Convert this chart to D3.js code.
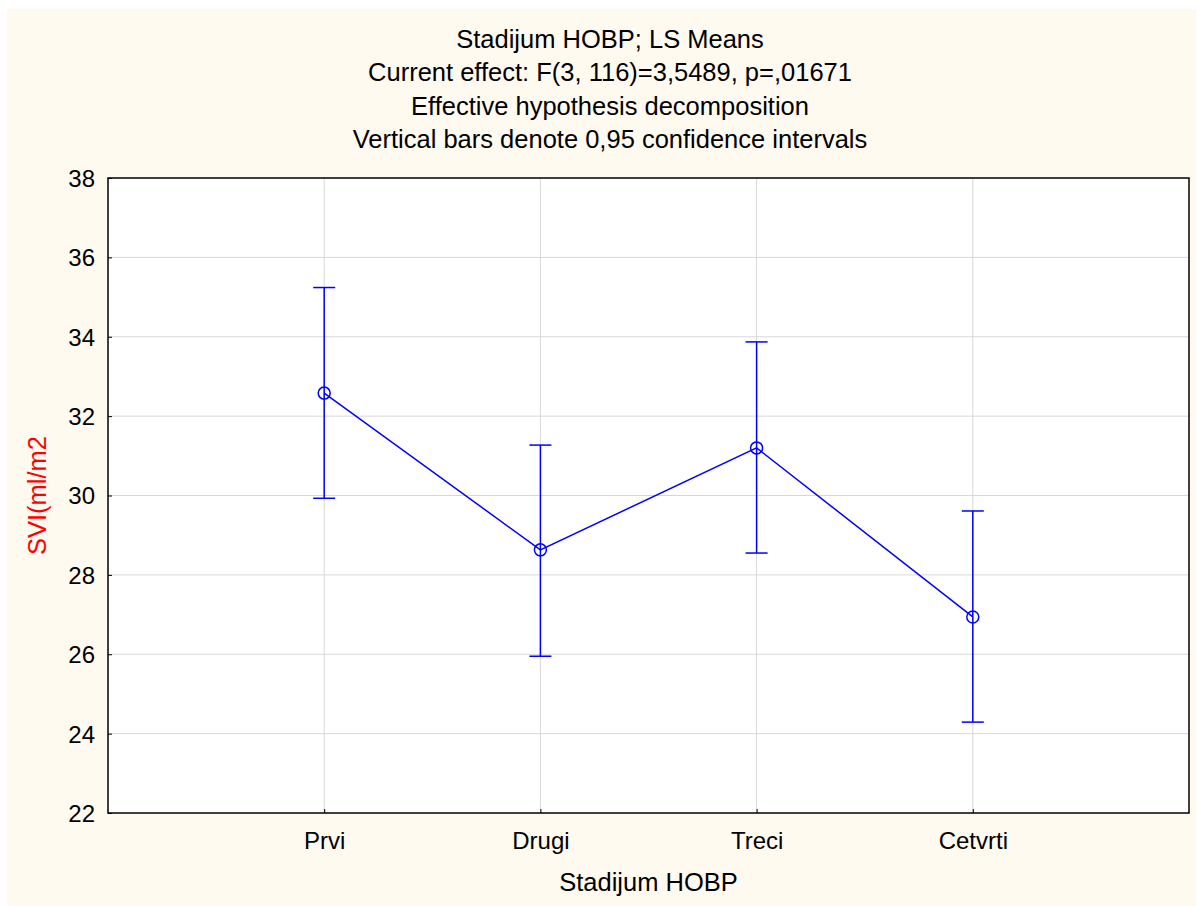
<!DOCTYPE html>
<html>
<head>
<meta charset="utf-8">
<script src="https://cdn.jsdelivr.net/npm/d3@7"></script>
<style>
  body { margin: 0; background: #ffffff; }
  text { font-family: "Liberation Sans", Arial, sans-serif; }
</style>
</head>
<body>
<svg id="chart"></svg>
<script>
// chart size
var width = 1199;
var height = 906;
var fontSize = "24px";
var titleSize = "25.5px";

// data
var categories = ["Prvi", "Drugi", "Treci", "Cetvrti"];
var means = [32.58, 28.63, 31.20, 26.94];
var upper = [35.24, 31.27, 33.87, 29.61];
var lower = [29.93, 25.95, 28.55, 24.29];
var yTicks = [22, 24, 26, 28, 30, 32, 34, 36, 38];
var titleLines = [
    "Stadijum HOBP; LS Means",
    "Current effect: F(3, 116)=3,5489, p=,01671",
    "Effective hypothesis decomposition",
    "Vertical bars denote 0,95 confidence intervals"
];

var rows = categories.map((c, i) => ({ cat: c, mean: means[i], hi: upper[i], lo: lower[i] }));

var margin = { left: 108, right: 10, top: 178, bottom: 93 };
var plotW = width - margin.left - margin.right;
var plotH = height - margin.top - margin.bottom;

var svg = d3.select("#chart")
    .attr("width", width)
    .attr("height", height);

// cream panel
svg.append("rect")
    .attr("x", 7).attr("y", 9)
    .attr("width", width - 10).attr("height", height - 9)
    .attr("fill", "#fffaf0");

var x = d3.scalePoint()
    .domain(categories)
    .range([0, plotW])
    .padding(1);

var y = d3.scaleLinear()
    .domain([22, 38])
    .range([plotH, 0]);

var g = svg.append("g")
    .attr("transform", "translate(" + margin.left + "," + margin.top + ")");

g.append("rect")
    .attr("width", plotW).attr("height", plotH)
    .attr("fill", "#ffffff");

// grid
g.append("g")
    .selectAll("line")
    .data(yTicks.slice(1, -1))
    .join("line")
    .attr("x1", 0).attr("x2", plotW)
    .attr("y1", (d) => y(d)).attr("y2", (d) => y(d))
    .attr("stroke", "#d8d8d8");

g.append("g")
    .selectAll("line")
    .data(categories)
    .join("line")
    .attr("x1", (d) => x(d)).attr("x2", (d) => x(d))
    .attr("y1", 0).attr("y2", plotH)
    .attr("stroke", "#d8d8d8");

// axes (ticks inside)
var yAxis = g.append("g")
    .call(d3.axisLeft(y).tickValues(yTicks).tickSizeInner(-4).tickSizeOuter(0).tickPadding(13));
yAxis.select(".domain").remove();
yAxis.selectAll("text").style("font-size", fontSize).attr("fill", "#000").attr("dy", "0.35em");

var xAxis = g.append("g")
    .attr("transform", "translate(0," + plotH + ")")
    .call(d3.axisBottom(x).tickSizeInner(-4).tickSizeOuter(0).tickPadding(19));
xAxis.select(".domain").remove();
xAxis.selectAll("text").style("font-size", fontSize).attr("fill", "#000").attr("dy", "0.71em");

// frame
g.append("rect")
    .attr("width", plotW).attr("height", plotH)
    .attr("fill", "none")
    .attr("stroke", "#000")
    .attr("stroke-width", 1.5);

// error bars
var bars = g.append("g")
    .attr("stroke", "#0000ff")
    .attr("stroke-width", 1.5);

bars.selectAll("line.whisker")
    .data(rows)
    .join("line")
    .attr("class", "whisker")
    .attr("x1", (d) => x(d.cat)).attr("x2", (d) => x(d.cat))
    .attr("y1", (d) => y(d.hi)).attr("y2", (d) => y(d.lo));

bars.selectAll("line.cap-hi")
    .data(rows)
    .join("line")
    .attr("class", "cap-hi")
    .attr("x1", (d) => x(d.cat) - 11).attr("x2", (d) => x(d.cat) + 11)
    .attr("y1", (d) => y(d.hi)).attr("y2", (d) => y(d.hi));

bars.selectAll("line.cap-lo")
    .data(rows)
    .join("line")
    .attr("class", "cap-lo")
    .attr("x1", (d) => x(d.cat) - 11).attr("x2", (d) => x(d.cat) + 11)
    .attr("y1", (d) => y(d.lo)).attr("y2", (d) => y(d.lo));

// mean line
var line = d3.line()
    .x((d) => x(d.cat))
    .y((d) => y(d.mean));

g.append("path")
    .datum(rows)
    .attr("d", line)
    .attr("fill", "none")
    .attr("stroke", "#0000ff")
    .attr("stroke-width", 1.5);

g.append("g")
    .selectAll("circle")
    .data(rows)
    .join("circle")
    .attr("cx", (d) => x(d.cat))
    .attr("cy", (d) => y(d.mean))
    .attr("r", 6)
    .attr("fill", "none")
    .attr("stroke", "#0000ff")
    .attr("stroke-width", 1.5);

// titles
svg.append("g")
    .selectAll("text")
    .data(titleLines)
    .join("text")
    .attr("x", 610)
    .attr("y", (d, i) => 48 + i * 33.4)
    .attr("text-anchor", "middle")
    .style("font-size", titleSize)
    .text((d) => d);

// axis labels
svg.append("text")
    .attr("x", margin.left + plotW / 2)
    .attr("y", 891)
    .attr("text-anchor", "middle")
    .style("font-size", titleSize)
    .text("Stadijum HOBP");

svg.append("text")
    .attr("transform", "translate(46," + (margin.top + plotH / 2) + ") rotate(-90)")
    .attr("text-anchor", "middle")
    .attr("fill", "#ff0000")
    .style("font-size", titleSize)
    .text("SVI(ml/m2");
</script>
</body>
</html>
